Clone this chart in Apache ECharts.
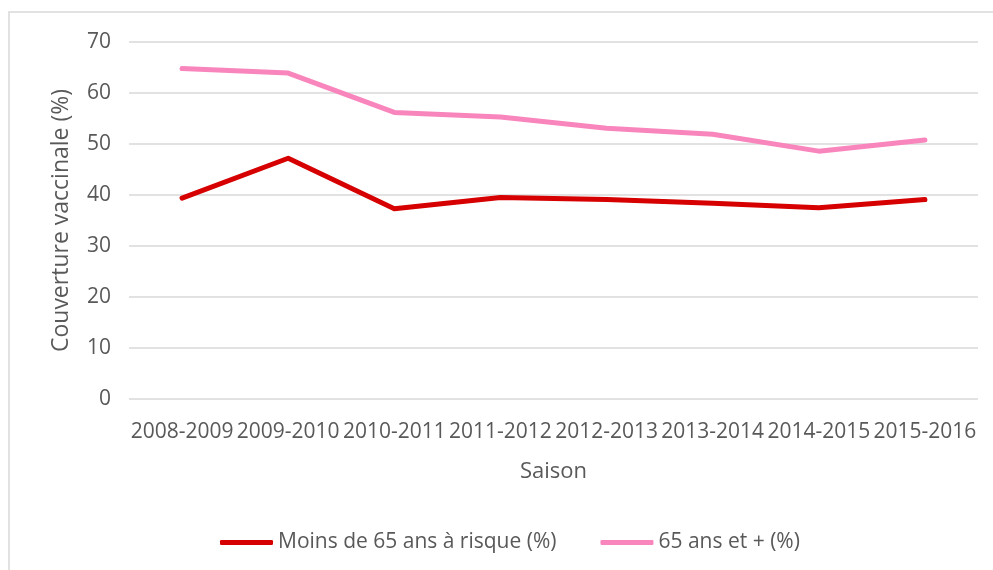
<!DOCTYPE html>
<html>
<head>
<meta charset="utf-8">
<script src="https://cdn.jsdelivr.net/npm/echarts@6/dist/echarts.min.js"></script>
<style>
  html, body { margin: 0; padding: 0; background: #fff; }
  #chart { width: 993px; height: 570px; }
</style>
</head>
<body>
<div id="chart"></div>
<script>
const seasons = ["2008-2009", "2009-2010", "2010-2011", "2011-2012", "2012-2013", "2013-2014", "2014-2015", "2015-2016"];
const moins65 = [39.4, 47.2, 37.3, 39.5, 39.1, 38.4, 37.5, 39.1];
const plus65 = [64.8, 63.9, 56.2, 55.3, 53.1, 51.9, 48.6, 50.8];
const yTicks = [0, 10, 20, 30, 40, 50, 60, 70];

const textColor = "#595959";
const font = "'Open Sans', sans-serif";

let chart = echarts.init(document.getElementById("chart"));
chart.setOption({
  animation: false,
  textStyle: { fontFamily: font },
  graphic: [{
    type: "rect",
    shape: { x: 9, y: 12, width: 1000, height: 600 },
    style: { fill: "none", stroke: "#d9d9d9", lineWidth: 1.5 },
    silent: true
  }],
  grid: { left: 129, right: 15, top: 42, bottom: 171 },
  legend: {
    bottom: 12,
    left: 215,
    itemWidth: 53,
    itemHeight: 5,
    itemGap: 44,
    icon: "roundRect",
    textStyle: { color: textColor, fontSize: 21, fontFamily: font },
    data: ["Moins de 65 ans à risque (%)", "65 ans et + (%)"]
  },
  xAxis: {
    type: "category",
    data: seasons,
    name: "Saison",
    nameLocation: "middle",
    nameGap: 62,
    nameTextStyle: { color: textColor, fontSize: 22, fontFamily: font },
    axisLine: { show: false },
    axisTick: { show: false },
    axisLabel: { color: textColor, fontSize: 21, margin: 23, interval: 0, fontFamily: font }
  },
  yAxis: {
    type: "value",
    min: yTicks[0],
    max: yTicks[yTicks.length - 1],
    interval: 10,
    name: "Couverture vaccinale (%)",
    nameLocation: "middle",
    nameGap: 56,
    nameTextStyle: { color: textColor, fontSize: 23, fontFamily: font },
    axisLabel: { color: textColor, fontSize: 21, margin: 18, fontFamily: font },
    splitLine: { lineStyle: { color: "#d9d9d9", width: 1.5 } }
  },
  series: [
    {
      name: "Moins de 65 ans à risque (%)",
      type: "line",
      data: moins65,
      symbol: "none",
      lineStyle: { color: "#d60000", width: 5, cap: "round", join: "round" },
      itemStyle: { color: "#d60000" }
    },
    {
      name: "65 ans et + (%)",
      type: "line",
      data: plus65,
      symbol: "none",
      lineStyle: { color: "#f985bd", width: 5, cap: "round", join: "round" },
      itemStyle: { color: "#f985bd" }
    }
  ]
});
</script>
</body>
</html>
